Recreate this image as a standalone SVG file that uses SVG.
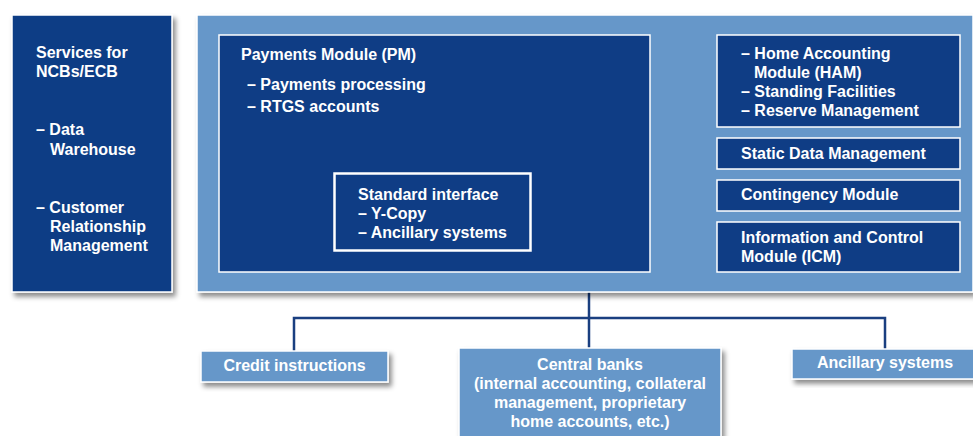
<svg xmlns="http://www.w3.org/2000/svg" width="973" height="436" viewBox="0 0 973 436">
<defs>
<filter id="sh" x="-10%" y="-10%" width="130%" height="140%">
<feDropShadow dx="3" dy="4" stdDeviation="2.5" flood-color="#000" flood-opacity="0.45"/>
</filter>
</defs>
<style>
.dark{fill:#0f3d85;stroke:#ffffff;stroke-width:1.5}
.light{fill:#6697c9;stroke:#ffffff;stroke-width:1.5}
text{font-family:"Liberation Sans",Arial,sans-serif;font-weight:bold;font-size:16px;fill:#ffffff}
.c{text-anchor:middle}
.conn{fill:none;stroke:#1a3f80;stroke-width:2.5}
</style>
<rect width="973" height="436" fill="#ffffff"/>
<g id="connectors">
<path class="conn" d="M589,292 V348"/>
<path class="conn" d="M294,351 V318 H885 V349"/>
</g>
<g id="services">
<rect class="dark" x="12" y="15" width="160" height="277" filter="url(#sh)"/>
<text x="36" y="58">Services for</text>
<text x="36" y="77">NCBs/ECB</text>
<text x="36" y="135">– Data</text>
<text x="50" y="155">Warehouse</text>
<text x="36" y="213">– Customer</text>
<text x="50" y="232">Relationship</text>
<text x="50" y="251">Management</text>
</g>
<g id="core">
<rect class="light" x="197" y="15" width="776" height="277" filter="url(#sh)"/>
</g>
<g id="pm">
<rect class="dark" x="219" y="35" width="431" height="237"/>
<text x="241" y="60">Payments Module (PM)</text>
<text x="247" y="90">– Payments processing</text>
<text x="247" y="112">– RTGS accounts</text>
</g>
<g id="std-interface">
<rect class="dark" x="334.5" y="173.5" width="196" height="77" style="stroke-width:2.5"/>
<text x="358" y="200">Standard interface</text>
<text x="358" y="219">– Y-Copy</text>
<text x="358" y="238">– Ancillary systems</text>
</g>
<g id="ham">
<rect class="dark" x="717" y="35" width="243" height="92"/>
<text x="741" y="59">– Home Accounting</text>
<text x="754" y="78">Module (HAM)</text>
<text x="741" y="97">– Standing Facilities</text>
<text x="741" y="116">– Reserve Management</text>
</g>
<g id="sdm">
<rect class="dark" x="717" y="138" width="243" height="31"/>
<text x="741" y="159">Static Data Management</text>
</g>
<g id="contingency">
<rect class="dark" x="717" y="180" width="243" height="31"/>
<text x="741" y="200">Contingency Module</text>
</g>
<g id="icm">
<rect class="dark" x="717" y="222" width="243" height="50"/>
<text x="741" y="243">Information and Control</text>
<text x="741" y="262">Module (ICM)</text>
</g>
<g id="credit">
<rect class="light" x="201" y="351" width="187" height="31" filter="url(#sh)"/>
<text class="c" x="294.5" y="371">Credit instructions</text>
</g>
<g id="central-banks">
<rect class="light" x="459" y="348" width="262" height="100" filter="url(#sh)"/>
<text class="c" x="590" y="370">Central banks</text>
<text class="c" x="590" y="389">(internal accounting, collateral</text>
<text class="c" x="590" y="408">management, proprietary</text>
<text class="c" x="590" y="427">home accounts, etc.)</text>
</g>
<g id="ancillary">
<rect class="light" x="792" y="349" width="190" height="30" filter="url(#sh)"/>
<text class="c" x="885" y="368">Ancillary systems</text>
</g>
</svg>
